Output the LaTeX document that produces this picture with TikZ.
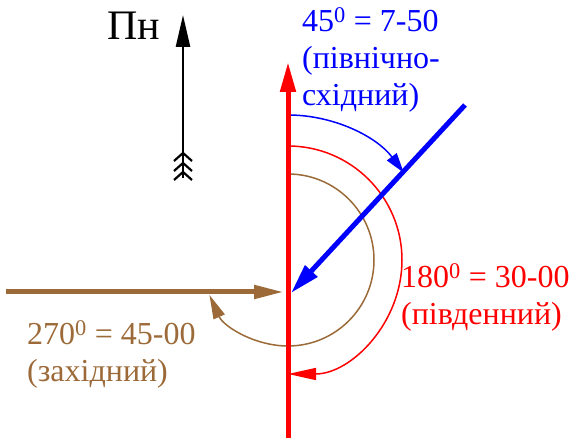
\documentclass[tikz,border=0pt]{standalone}
\usepackage{xcolor}
\usepackage{fontspec}
\setmainfont{Liberation Serif}
\newfontfamily\labelfont{Liberation Serif}
\usetikzlibrary{arrows.meta}
\definecolor{westbrown}{RGB}{156,106,56}

\begin{document}
\begin{tikzpicture}[x=1pt, y=1pt,
        dirlabel/.style={font=\labelfont\fontsize{32}{37}\selectfont, align=left, anchor=base west, inner sep=0pt},
        dirline/.style={line width=5pt},
        anglearc/.style={line width=1.5pt}]
        \useasboundingbox (0,0) rectangle (571,438);

        % Centre and direction points
        \coordinate (centre) at (288,178);
        \coordinate (southend) at (288,0);
        \coordinate (northend) at (288,376);
        \coordinate (westend) at (6,146);
        \coordinate (westtip) at (284,146);
        \coordinate (neend) at (465,333);
        \coordinate (netip) at (291,145);

        % North arrow with feathers
        \coordinate (arrowtail) at (183,260);
        \coordinate (arrowhead) at (183,423);
        \draw[line width=2.5pt, -{Triangle[length=32pt, width=14pt]}] (arrowtail) -- (arrowhead);
        \foreach \dy in {6,15,25}
            \draw[line width=2.2pt] ([shift={(-9,\dy-8)}]arrowtail) -- ([shift={(0,\dy)}]arrowtail) -- ([shift={(9,\dy-8)}]arrowtail);
        \node[font=\labelfont\fontsize{42}{46}\selectfont, anchor=base west, inner sep=0pt] (northlabel) at (107,398) {Пн};

        % Angle arcs
        \draw[anglearc, blue, -{Triangle[length=20pt, width=12pt]}]
            ([shift={(90:145)}]centre) arc[start angle=90, end angle=37, radius=145];
        \draw[anglearc, red, -{Triangle[length=28pt, width=12pt]}]
            ([shift={(90:114)}]centre) arc[start angle=90, end angle=-90, radius=114];
        \draw[anglearc, westbrown, -{Triangle[length=24pt, width=12pt]}]
            ([shift={(90:86)}]centre) arc[start angle=90, end angle=-156, radius=86];

        % Direction lines
        \draw[dirline, westbrown, -{Triangle[length=30pt, width=13pt]}] (westend) -- (westtip);
        \draw[dirline, blue, -{Triangle[length=30pt, width=16pt]}] (neend) -- (netip);
        \draw[dirline, red, -{Triangle[length=30pt, width=15pt]}] (southend) -- (northend);

        % Labels (anchored at the baseline of the last line)
        \node[dirlabel, blue] (nelabel) at (302,332) {45\textsuperscript{0} = 7-50\\(північно-\\східний)};
        \node[dirlabel, red] (southlabel) at (401,113) {180\textsuperscript{0} = 30-00\\(південний)};
        \node[dirlabel, westbrown] (westlabel) at (27,56) {270\textsuperscript{0} = 45-00\\(західний)};
\end{tikzpicture}
\end{document}
